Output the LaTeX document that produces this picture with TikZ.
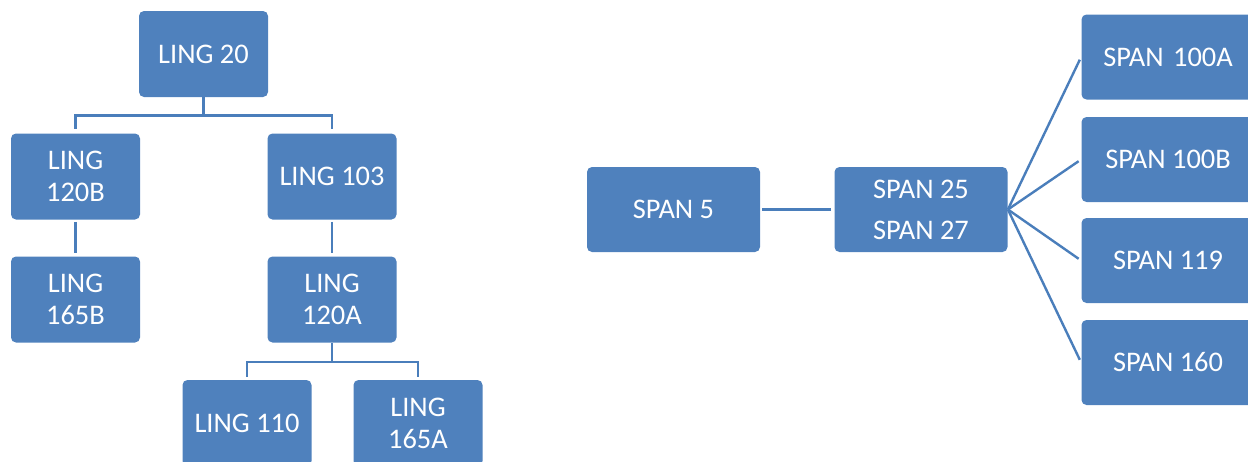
\documentclass[tikz,border=0pt]{standalone}
\usepackage{fontspec}
\setmainfont{Carlito}
\usepackage{tikz}
\usetikzlibrary{positioning}
\definecolor{boxblue}{HTML}{4F81BD}
\definecolor{lineblue}{HTML}{4A7EBB}

\begin{document}
\begin{tikzpicture}[
			x = 0.5pt, y = -0.5pt,
			course/.style = {fill=boxblue,rounded corners=2.5pt,text=white,align=center,inner sep=0pt,
				font=\fontsize{14.2}{16}\selectfont},
			ling/.style = {course,minimum width=64.5pt,minimum height=43pt},
			span/.style = {course,minimum width=86.5pt,minimum height=42.5pt},
			link/.style = {draw=lineblue,line width=1.2pt}]

			\useasboundingbox (0,0) rectangle (1248,461);

			% LING tree
			\node[ling] (l20)   at (203.5,54)  {LING 20};
			\node[ling] (l120b) at (75.5,176.5) {LING\\120B};
			\node[ling] (l103)  at (332,176.5)  {LING 103};
			\node[ling] (l165b) at (75.5,299.5) {LING\\165B};
			\node[ling] (l120a) at (332,299.5)  {LING\\120A};
			\node[ling] (l110)  at (247,423)    {LING 110};
			\node[ling] (l165a) at (418,423)    {LING\\165A};

			\draw[link,shorten >=2pt] (l20.south) -- ++(0,18) -| (l120b.north);
			\draw[link,shorten >=2pt] (l20.south) -- ++(0,18) -| (l103.north);
			\draw[link,shorten <=1pt,shorten >=1.5pt] (l120b) -- (l165b);
			\draw[link,shorten <=1pt,shorten >=1.5pt] (l103) -- (l120a);
			\draw[link,shorten >=1.5pt] (l120a.south) -- ++(0,19) -| (l110.north);
			\draw[link,shorten >=1.5pt] (l120a.south) -- ++(0,19) -| (l165a.north);

			% SPAN chain
			\node[span] (s5)   at (673.5,209.5) {SPAN 5};
			\node[span] (s25)  at (921,209.5)   {SPAN 25\\[4.5pt]SPAN 27};
			\node[span] (s100a) at (1168,57)    {SPAN\hspace{1.5pt} 100A};
			\node[span] (s100b) at (1168,159.5) {SPAN 100B};
			\node[span] (s119)  at (1168,260.5) {SPAN 119};
			\node[span] (s160)  at (1168,362.5) {SPAN 160};

			\draw[link,shorten <=1pt,shorten >=1.5pt] (s5) -- (s25);
			\foreach \n in {s100a,s100b,s119,s160}
				\draw[link,shorten >=1.5pt] (s25.east) -- (\n.west);

		\end{tikzpicture}
\end{document}
